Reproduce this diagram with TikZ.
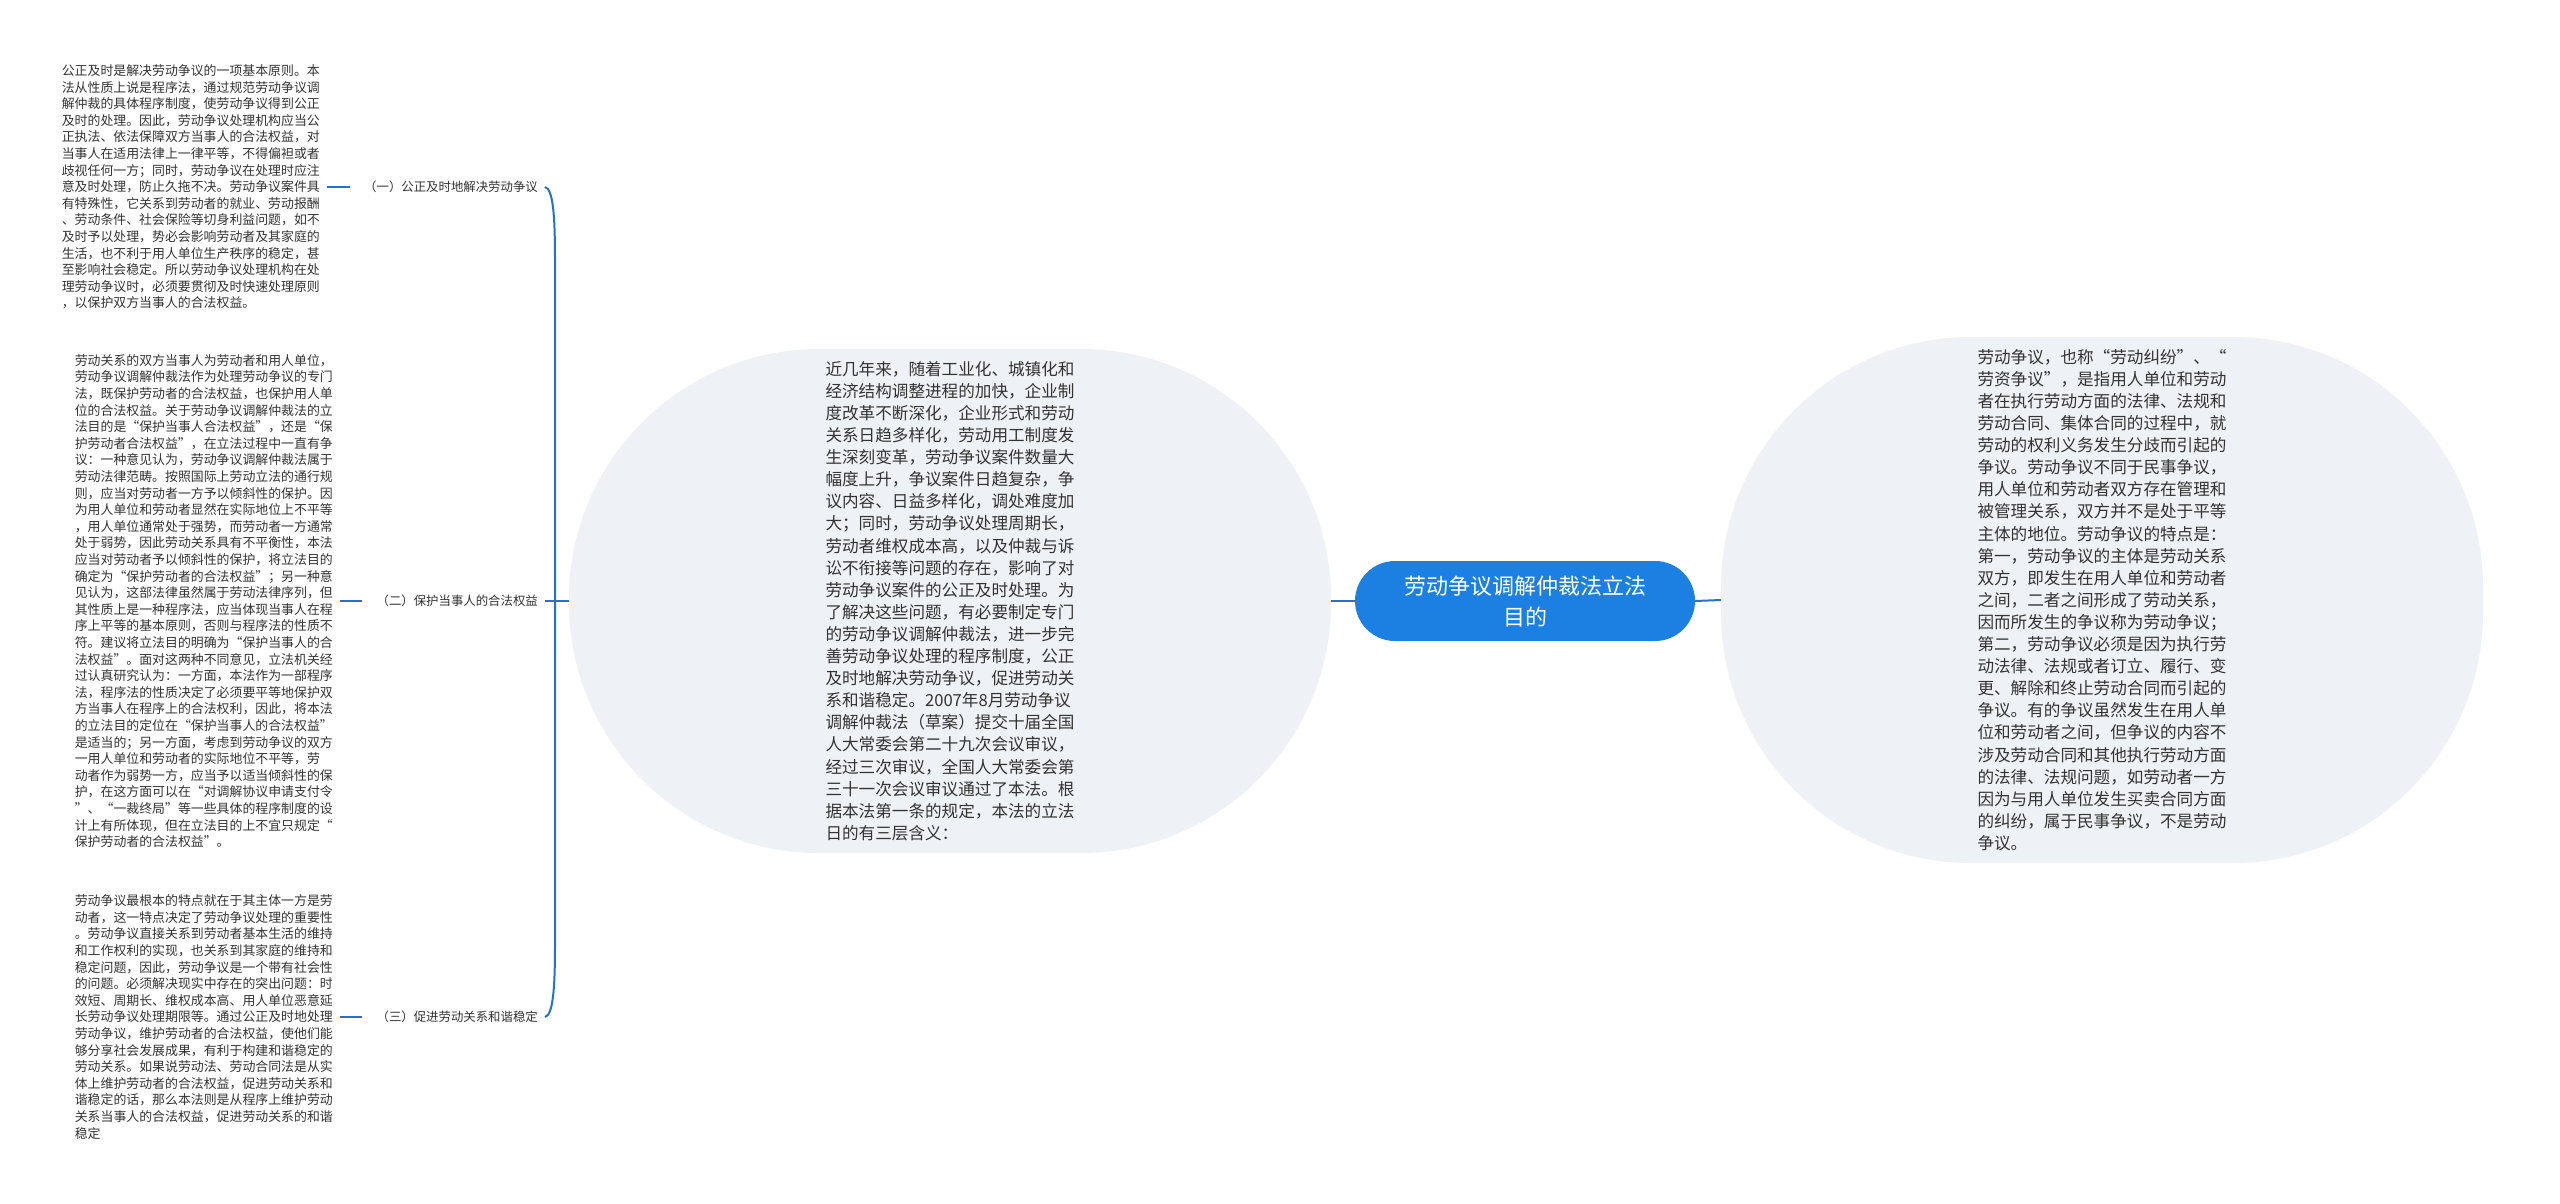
\documentclass[tikz,border=0pt]{standalone}
\usepackage{fontspec}
\setmainfont{Noto Sans CJK SC}
\usepackage{xcolor}
\usepackage{tikz}
\usetikzlibrary{positioning}
\definecolor{TopicBlue}{HTML}{1C80E3}
\definecolor{LinkBlue}{HTML}{2272CE}
\definecolor{BlobGray}{HTML}{EEF1F5}
\definecolor{TextGray}{HTML}{333333}

\begin{document}
\begin{tikzpicture}[x=1pt,y=-1pt,
    topic/.style={fill=TopicBlue,text=white,rounded corners=40pt,minimum width=340pt,minimum height=80pt,align=center,font=\fontsize{22}{31}\selectfont},
    blob/.style={fill=BlobGray,text=TextGray,rounded corners=250pt,minimum width=762pt,align=left,font=\fontsize{16.6}{22.1}\selectfont},
    leaf/.style={text=TextGray,align=left,inner xsep=7pt,inner ysep=0pt,font=\fontsize{12.9}{16.6}\selectfont},
    branchlabel/.style={text=TextGray,inner xsep=7pt,font=\fontsize{12.4}{15}\selectfont},
    link/.style={draw=LinkBlue,line width=2pt}]
        \useasboundingbox (0,0) rectangle (2560,1203);
        % Central topic
        \node[topic] (root) at (1525,601) {劳动争议调解仲裁法立法\\目的};
        % Background text blobs
        \node[blob,minimum height=504pt] (intro) at (950,601) {近几年来，随着工业化、城镇化和\\经济结构调整进程的加快，企业制\\度改革不断深化，企业形式和劳动\\关系日趋多样化，劳动用工制度发\\生深刻变革，劳动争议案件数量大\\幅度上升，争议案件日趋复杂，争\\议内容、日益多样化，调处难度加\\大；同时，劳动争议处理周期长，\\劳动者维权成本高，以及仲裁与诉\\讼不衔接等问题的存在，影响了对\\劳动争议案件的公正及时处理。为\\了解决这些问题，有必要制定专门\\的劳动争议调解仲裁法，进一步完\\善劳动争议处理的程序制度，公正\\及时地解决劳动争议，促进劳动关\\系和谐稳定。2007年8月劳动争议\\调解仲裁法（草案）提交十届全国\\人大常委会第二十九次会议审议，\\经过三次审议，全国人大常委会第\\三十一次会议审议通过了本法。根\\据本法第一条的规定，本法的立法\\日的有三层含义：};
        \node[blob,minimum height=526pt] (define) at (2102,600) {劳动争议，也称“劳动纠纷”、“\\劳资争议”，是指用人单位和劳动\\者在执行劳动方面的法律、法规和\\劳动合同、集体合同的过程中，就\\劳动的权利义务发生分歧而引起的\\争议。劳动争议不同于民事争议，\\用人单位和劳动者双方存在管理和\\被管理关系，双方并不是处于平等\\主体的地位。劳动争议的特点是：\\第一，劳动争议的主体是劳动关系\\双方，即发生在用人单位和劳动者\\之间，二者之间形成了劳动关系，\\因而所发生的争议称为劳动争议；\\第二，劳动争议必须是因为执行劳\\动法律、法规或者订立、履行、变\\更、解除和终止劳动合同而引起的\\争议。有的争议虽然发生在用人单\\位和劳动者之间，但争议的内容不\\涉及劳动合同和其他执行劳动方面\\的法律、法规问题，如劳动者一方\\因为与用人单位发生买卖合同方面\\的纠纷，属于民事争议，不是劳动\\争议。};
        \draw[link] (root.west) -- (intro.east);
        \draw[link] (root.east) -- (define.west);
        % Left branch labels
        \node[branchlabel,anchor=east] (fair) at (545,187) {（一）公正及时地解决劳动争议};
        \node[branchlabel,anchor=east] (protect) at (545,601) {（二）保护当事人的合法权益};
        \node[branchlabel,anchor=east] (harmony) at (545,1017) {（三）促进劳动关系和谐稳定};
        \draw[link] (protect.east) -- (intro.west);
        \draw[link] (fair.east) .. controls (553,189) and (555,215) .. (555,260) -- (555,944) .. controls (555,989) and (553,1015) .. (harmony.east);
        % Left leaf texts
        \node[leaf,anchor=east] (fairtext) at (327,187) {公正及时是解决劳动争议的一项基本原则。本\\法从性质上说是程序法，通过规范劳动争议调\\解仲裁的具体程序制度，使劳动争议得到公正\\及时的处理。因此，劳动争议处理机构应当公\\正执法、依法保障双方当事人的合法权益，对\\当事人在适用法律上一律平等，不得偏袒或者\\歧视任何一方；同时，劳动争议在处理时应注\\意及时处理，防止久拖不决。劳动争议案件具\\有特殊性，它关系到劳动者的就业、劳动报酬\\、劳动条件、社会保险等切身利益问题，如不\\及时予以处理，势必会影响劳动者及其家庭的\\生活，也不利于用人单位生产秩序的稳定，甚\\至影响社会稳定。所以劳动争议处理机构在处\\理劳动争议时，必须要贯彻及时快速处理原则\\，以保护双方当事人的合法权益。};
        \node[leaf,anchor=east] (protecttext) at (340,601) {劳动关系的双方当事人为劳动者和用人单位，\\劳动争议调解仲裁法作为处理劳动争议的专门\\法，既保护劳动者的合法权益，也保护用人单\\位的合法权益。关于劳动争议调解仲裁法的立\\法目的是“保护当事人合法权益”，还是“保\\护劳动者合法权益”，在立法过程中一直有争\\议：一种意见认为，劳动争议调解仲裁法属于\\劳动法律范畴。按照国际上劳动立法的通行规\\则，应当对劳动者一方予以倾斜性的保护。因\\为用人单位和劳动者显然在实际地位上不平等\\，用人单位通常处于强势，而劳动者一方通常\\处于弱势，因此劳动关系具有不平衡性，本法\\应当对劳动者予以倾斜性的保护，将立法目的\\确定为“保护劳动者的合法权益”；另一种意\\见认为，这部法律虽然属于劳动法律序列，但\\其性质上是一种程序法，应当体现当事人在程\\序上平等的基本原则，否则与程序法的性质不\\符。建议将立法目的明确为“保护当事人的合\\法权益”。面对这两种不同意见，立法机关经\\过认真研究认为：一方面，本法作为一部程序\\法，程序法的性质决定了必须要平等地保护双\\方当事人在程序上的合法权利，因此，将本法\\的立法目的定位在“保护当事人的合法权益”\\是适当的；另一方面，考虑到劳动争议的双方\\一用人单位和劳动者的实际地位不平等，劳\\动者作为弱势一方，应当予以适当倾斜性的保\\护，在这方面可以在“对调解协议申请支付令\\”、“一裁终局”等一些具体的程序制度的设\\计上有所体现，但在立法目的上不宜只规定“\\保护劳动者的合法权益”。};
        \node[leaf,anchor=east] (harmonytext) at (340,1017) {劳动争议最根本的特点就在于其主体一方是劳\\动者，这一特点决定了劳动争议处理的重要性\\。劳动争议直接关系到劳动者基本生活的维持\\和工作权利的实现，也关系到其家庭的维持和\\稳定问题，因此，劳动争议是一个带有社会性\\的问题。必须解决现实中存在的突出问题：时\\效短、周期长、维权成本高、用人单位恶意延\\长劳动争议处理期限等。通过公正及时地处理\\劳动争议，维护劳动者的合法权益，使他们能\\够分享社会发展成果，有利于构建和谐稳定的\\劳动关系。如果说劳动法、劳动合同法是从实\\体上维护劳动者的合法权益，促进劳动关系和\\谐稳定的话，那么本法则是从程序上维护劳动\\关系当事人的合法权益，促进劳动关系的和谐\\稳定};
        \draw[link,shorten >=7pt] (fairtext.east) -- (fair.west);
        \draw[link,shorten >=7pt] (protecttext.east) -- (protect.west);
        \draw[link,shorten >=7pt] (harmonytext.east) -- (harmony.west);
      \end{tikzpicture}
\end{document}
